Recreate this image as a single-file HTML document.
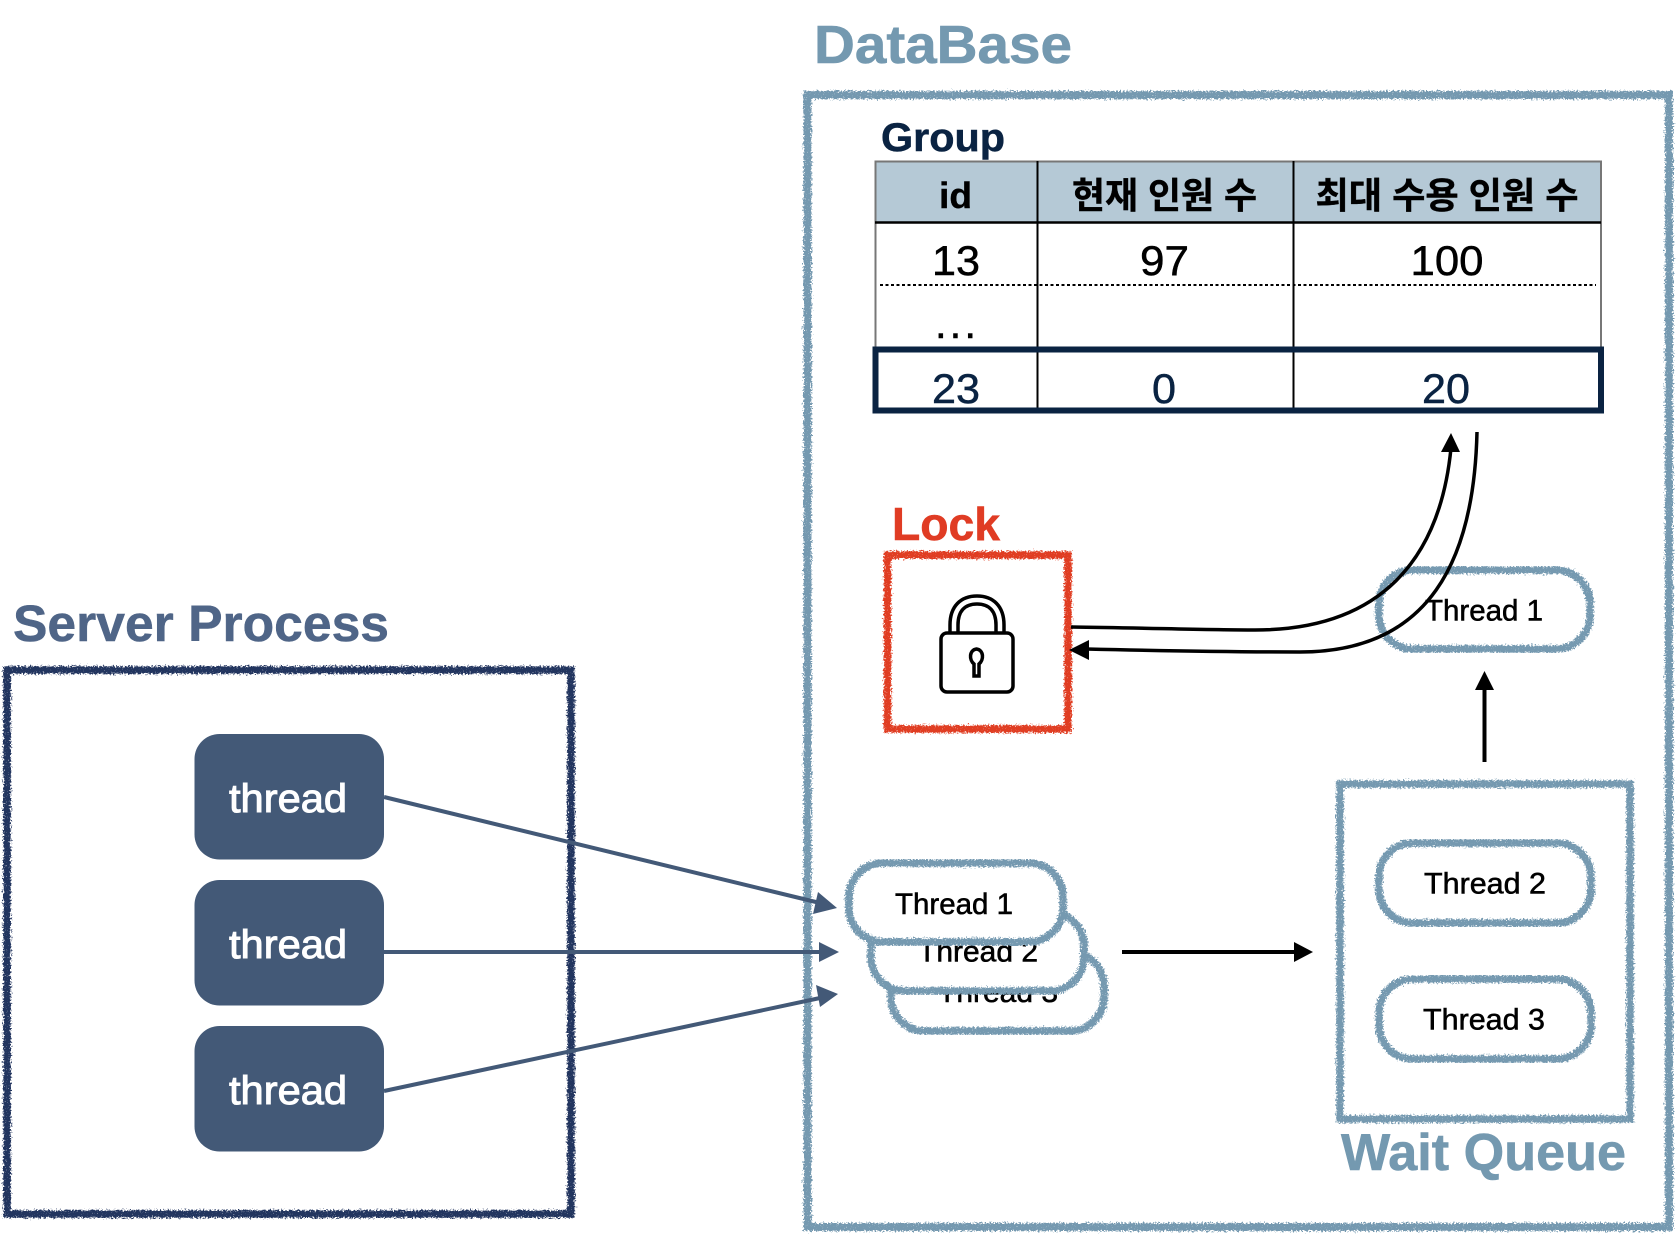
<!DOCTYPE html>
<html><head><meta charset="utf-8"><style>
html,body{margin:0;padding:0;background:#fff}
svg{display:block}
text{font-family:"Liberation Sans","Noto Sans CJK KR",sans-serif}
.b{font-weight:bold}
.t{font-size:30px;fill:#000;stroke:#000;stroke-width:.55px}
</style></head><body>
<svg width="1676" height="1234" viewBox="0 0 1676 1234" xmlns="http://www.w3.org/2000/svg">
<defs>
<filter id="r" x="-5%" y="-5%" width="110%" height="110%">
<feTurbulence type="fractalNoise" baseFrequency="0.6" numOctaves="2" seed="4" result="n"/>
<feDisplacementMap in="SourceGraphic" in2="n" scale="7" xChannelSelector="R" yChannelSelector="G" result="d"/>
<feTurbulence type="fractalNoise" baseFrequency="0.9" numOctaves="1" seed="9"/>
<feColorMatrix type="matrix" values="0 0 0 0 0  0 0 0 0 0  0 0 0 0 0  0 0 0 -6 5"/>
<feComposite in="d" operator="in"/>
</filter>
</defs>
<rect width="1676" height="1234" fill="#fff"/>

<!-- Server process -->
<text class="b" x="13" y="641" font-size="51" fill="#4f6587" stroke="#4f6587" stroke-width=".5" textLength="376" lengthAdjust="spacingAndGlyphs">Server Process</text>
<rect x="7" y="670" width="564" height="544" fill="none" stroke="#22345e" stroke-width="7.500" filter="url(#r)"/>
<rect x="194.500" y="734" width="189.500" height="125.500" rx="25" fill="#435977"/>
<rect x="194.500" y="880" width="189.500" height="125.500" rx="25" fill="#435977"/>
<rect x="194.500" y="1026" width="189.500" height="125.500" rx="25" fill="#435977"/>
<g font-size="40" fill="#fff" stroke="#fff" stroke-width="1">
<text x="229" y="812" textLength="118" lengthAdjust="spacingAndGlyphs">thread</text>
<text x="229" y="958" textLength="118" lengthAdjust="spacingAndGlyphs">thread</text>
<text x="229" y="1104" textLength="118" lengthAdjust="spacingAndGlyphs">thread</text>
</g>

<!-- DB -->
<text class="b" x="814" y="63" font-size="54" fill="#7499b0" stroke="#7499b0" stroke-width=".6" textLength="258" lengthAdjust="spacingAndGlyphs">DataBase</text>
<rect x="807.500" y="95" width="861.500" height="1132" fill="none" stroke="#7499b0" stroke-width="8" filter="url(#r)"/>

<!-- incoming arrows -->
<g stroke="#435977" stroke-width="4" fill="none">
<line x1="384" y1="797" x2="820" y2="903"/>
<line x1="384" y1="952" x2="822" y2="952"/>
<line x1="384" y1="1091" x2="820" y2="998"/>
</g>
<g fill="#435977">
<polygon points="837,908 813,914 818,892"/>
<polygon points="839,952 819,942 819,962"/>
<polygon points="838,994 816,985 820,1007"/>
</g>

<!-- Table -->
<text class="b" x="881" y="151" font-size="40" fill="#0a2342" stroke="#0a2342" stroke-width=".5" textLength="124" lengthAdjust="spacingAndGlyphs">Group</text>
<rect x="875.500" y="161.500" width="725.500" height="61" fill="#b5c9d6"/>
<rect x="875.500" y="161.500" width="725.500" height="249" fill="none" stroke="#777" stroke-width="2"/>
<line x1="875" y1="222.500" x2="1601" y2="222.500" stroke="#000" stroke-width="2.500"/>
<line x1="1037.500" y1="161" x2="1037.500" y2="410" stroke="#000" stroke-width="2"/>
<line x1="1293.500" y1="161" x2="1293.500" y2="410" stroke="#000" stroke-width="2"/>
<line x1="880" y1="285" x2="1596" y2="285" stroke="#000" stroke-width="2" stroke-dasharray="3 2.500"/>
<rect x="875.500" y="349.500" width="725.500" height="61" fill="none" stroke="#0a2342" stroke-width="6"/>
<g class="b" font-size="36" fill="#000" font-weight="bold" stroke="#000" stroke-width=".4">
<text x="939" y="208" textLength="33" lengthAdjust="spacingAndGlyphs">id</text>
<text x="1072" y="208" textLength="185" lengthAdjust="spacingAndGlyphs">현재 인원 수</text>
<text x="1315.500" y="208" textLength="263" lengthAdjust="spacingAndGlyphs">최대 수용 인원 수</text>
</g>
<g font-size="42" fill="#000" stroke="#000" stroke-width=".5">
<text x="932" y="275" textLength="48" lengthAdjust="spacingAndGlyphs">13</text>
<text x="1140" y="275" textLength="49" lengthAdjust="spacingAndGlyphs">97</text>
<text x="1410.500" y="275" textLength="73" lengthAdjust="spacingAndGlyphs">100</text>
<text x="935" y="338" textLength="41" lengthAdjust="spacing">...</text>
</g>
<g font-size="42" fill="#0a2342" stroke="#0a2342" stroke-width=".5">
<text x="932" y="403" textLength="48" lengthAdjust="spacingAndGlyphs">23</text>
<text x="1152" y="403" textLength="24" lengthAdjust="spacingAndGlyphs">0</text>
<text x="1422" y="403" textLength="48" lengthAdjust="spacingAndGlyphs">20</text>
</g>

<!-- Lock -->
<text class="b" x="892" y="540" font-size="46" fill="#e03c24" stroke="#e03c24" stroke-width=".6" textLength="108" lengthAdjust="spacingAndGlyphs">Lock</text>
<rect x="887.500" y="555" width="180.500" height="174" fill="none" stroke="#e03c24" stroke-width="7.500" filter="url(#r)"/>
<g fill="none" stroke="#000" stroke-width="3.500">
<rect x="941" y="633" width="72" height="59" rx="6"/>
<path d="M950 633V625C950 606 961 596 977 596C993 596 1004 606 1004 625V633"/>
<path d="M958 633V625C958 611 965 604 977 604C989 604 996 611 996 625V633"/>
<path d="M974 676V664C969 660 969 650 976.500 649C984 650 984 660 979 664V676Z"/>
</g>

<!-- Thread 1 (upper) -->
<rect x="1379" y="570" width="211" height="79" rx="34" fill="none" stroke="#7499b0" stroke-width="7.500" filter="url(#r)"/>
<text class="t" x="1425" y="620.500" textLength="118" lengthAdjust="spacingAndGlyphs">Thread 1</text>

<!-- curves -->
<g fill="none" stroke="#000" stroke-width="3.500">
<path d="M1071 627C1150 628 1205 630 1255 630C1380 630 1440 560 1451 448"/>
<path d="M1477 432C1474 560 1430 652 1300 652C1240 652 1170 651 1086 649"/>
<line x1="1484.500" y1="762" x2="1484.500" y2="688" stroke-width="4"/>
<line x1="1122" y1="952" x2="1297" y2="952" stroke-width="4"/>
</g>
<g fill="#000">
<polygon points="1451,433 1441,452 1460,452"/>
<polygon points="1069,650 1089,640 1089,660"/>
<polygon points="1484.500,671 1475,690 1494,690"/>
<polygon points="1313,952 1294,942 1294,962"/>
</g>

<!-- Wait queue -->
<rect x="1340" y="784" width="290" height="335" fill="none" stroke="#7499b0" stroke-width="7.500" filter="url(#r)"/>
<rect x="1379" y="843" width="212" height="80" rx="34" fill="none" stroke="#7499b0" stroke-width="7.500" filter="url(#r)"/>
<text class="t" x="1424" y="893.500" textLength="122" lengthAdjust="spacingAndGlyphs">Thread 2</text>
<rect x="1379" y="979" width="212" height="80" rx="34" fill="none" stroke="#7499b0" stroke-width="7.500" filter="url(#r)"/>
<text class="t" x="1423" y="1029.500" textLength="122" lengthAdjust="spacingAndGlyphs">Thread 3</text>
<text class="b" x="1341" y="1170" font-size="52" fill="#7499b0" stroke="#7499b0" stroke-width=".6" textLength="285" lengthAdjust="spacingAndGlyphs">Wait Queue</text>

<!-- stacked threads -->
<rect x="891" y="952" width="213" height="79" rx="34" fill="#fff"/>
<text class="t" x="938" y="1002" textLength="120" lengthAdjust="spacingAndGlyphs">Thread 3</text>
<rect x="891" y="952" width="213" height="79" rx="34" fill="none" stroke="#7499b0" stroke-width="7.500" filter="url(#r)"/>
<rect x="871" y="912" width="213" height="79" rx="34" fill="#fff"/>
<text class="t" x="918" y="961.500" textLength="120" lengthAdjust="spacingAndGlyphs">Thread 2</text>
<rect x="871" y="912" width="213" height="79" rx="34" fill="none" stroke="#7499b0" stroke-width="7.500" filter="url(#r)"/>
<rect x="849" y="863" width="214" height="82" rx="34" fill="#fff"/>
<text class="t" x="895" y="914" textLength="118" lengthAdjust="spacingAndGlyphs">Thread 1</text>
<rect x="849" y="863" width="214" height="79" rx="34" fill="none" stroke="#7499b0" stroke-width="7.500" filter="url(#r)"/>
</svg>
</body></html>
